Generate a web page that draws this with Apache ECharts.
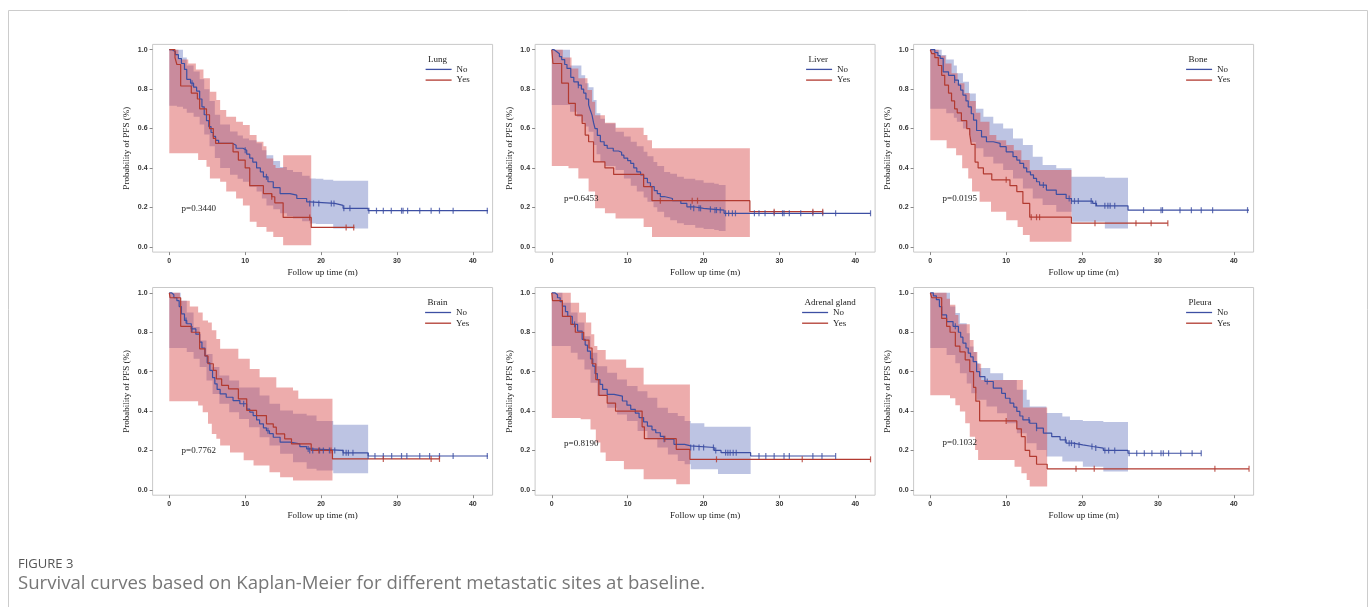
<!DOCTYPE html>
<html>
<head>
<meta charset="utf-8">
<title>Figure 3</title>
<script src="https://cdn.jsdelivr.net/npm/echarts@6/dist/echarts.min.js"></script>
<style>
    html, body { margin: 0; padding: 0; background: #fff; }
    #main { width: 1372px; height: 607px; }
</style>
</head>
<body>
<div id="main"></div>
<script>
/**
 * data
 * curves: [time, survival]   bands: [time, lower, upper]   censors: times
 */
var xTicks = [0, 10, 20, 30, 40];
var yTicks = [0, 0.2, 0.4, 0.6, 0.8, 1.0];
var siteNames = ['Lung', 'Liver', 'Bone', 'Brain', 'Adrenal gland', 'Pleura'];
var groupNames = ['No', 'Yes'];
var pValues = ['p=0.3440', 'p=0.6453', 'p=0.0195', 'p=0.7762', 'p=0.8190', 'p=0.1032'];

// Lung
var lungNo = [[0,1],[0.4,0.99],[0.8,0.975],[1.2,0.955],[1.6,0.93],[2.0,0.90],[2.3,0.85],[2.8,0.83],[3.2,0.81],[3.6,0.79],[4.0,0.75],[4.3,0.71],[4.6,0.67],[4.9,0.64],[5.2,0.61],[5.5,0.58],[5.8,0.56],[6.1,0.54],[6.5,0.525],[8.3,0.515],[8.8,0.50],[9.7,0.49],[10.2,0.47],[10.6,0.45],[11.0,0.43],[11.5,0.40],[12.0,0.38],[12.4,0.355],[13.0,0.33],[13.7,0.30],[14.6,0.27],[15.9,0.262],[16.8,0.245],[18.1,0.228],[18.5,0.22],[21.8,0.21],[22.9,0.195],[26.2,0.183],[42,0.183]];
var lungNoCens = [3.0,10.0,12.8,18.5,19.0,19.7,21.35,21.7,23.0,23.8,26.3,27.3,28.2,29.25,30.6,30.8,31.4,33.0,34.5,35.6,37.4,41.9];
var lungNoCI = [[0,0.716,1.0],[1.0,0.71,1.0],[1.8,0.70,0.96],[2.3,0.68,0.92],[3.2,0.66,0.89],[4.0,0.62,0.85],[4.6,0.57,0.80],[5.3,0.51,0.74],[6.0,0.45,0.67],[6.7,0.40,0.62],[8.0,0.365,0.585],[9.0,0.345,0.565],[9.7,0.33,0.55],[10.5,0.305,0.54],[11.5,0.28,0.525],[12.2,0.245,0.49],[12.8,0.21,0.465],[13.7,0.19,0.435],[14.6,0.17,0.405],[15.5,0.155,0.39],[16.3,0.144,0.38],[17.5,0.13,0.36],[18.5,0.118,0.347],[19.3,0.115,0.345],[20.3,0.115,0.34],[21.6,0.093,0.335],[26.2,0.093,0.335]];
var lungYes = [[0,1],[0.75,0.96],[1.0,0.925],[1.5,0.816],[2.9,0.78],[3.7,0.75],[4.0,0.70],[4.9,0.67],[5.3,0.60],[5.8,0.55],[6.1,0.525],[8.4,0.482],[9.1,0.44],[10.0,0.40],[10.6,0.31],[12.4,0.27],[13.5,0.254],[13.9,0.223],[15.0,0.149],[18.7,0.098],[24.4,0.098]];
var lungYesCens = [13.5,18.5,23.3,24.3];
var lungYesCI = [[0,0.474,1.0],[1.2,0.474,0.95],[2.5,0.474,0.93],[3.5,0.474,0.90],[3.8,0.44,0.90],[4.5,0.44,0.855],[4.9,0.406,0.855],[5.35,0.347,0.787],[6.2,0.347,0.745],[6.7,0.33,0.694],[7.5,0.28,0.66],[8.8,0.245,0.635],[9.7,0.21,0.618],[10.6,0.127,0.567],[11.5,0.10,0.533],[12.4,0.10,0.51],[12.8,0.076,0.448],[13.7,0.05,0.415],[14.0,0.05,0.40],[15.0,0.008,0.465],[18.7,0.008,0.465]];

// Liver
var liverNo = [[0,1],[0.3,0.99],[0.66,0.98],[1.0,0.965],[1.3,0.95],[1.7,0.925],[2.0,0.905],[2.5,0.86],[2.9,0.837],[3.5,0.82],[3.9,0.80],[4.2,0.78],[4.5,0.75],[4.85,0.72],[5.1,0.69],[5.3,0.668],[5.5,0.63],[5.7,0.60],[6.0,0.565],[6.4,0.533],[6.9,0.515],[7.3,0.50],[8.1,0.486],[8.8,0.48],[9.2,0.465],[9.5,0.45],[10.0,0.437],[10.4,0.423],[10.8,0.40],[11.2,0.38],[11.7,0.365],[12.1,0.347],[12.6,0.325],[13.0,0.305],[13.5,0.285],[13.9,0.27],[14.3,0.255],[14.8,0.245],[15.9,0.234],[17.0,0.22],[17.8,0.203],[18.7,0.195],[20.0,0.19],[21.4,0.186],[22.7,0.17],[42,0.17]];
var liverNoCens = [3.5,18.3,18.7,19.4,19.6,20.9,21.5,21.7,22.2,22.9,23.3,23.8,24.2,26.7,27.3,28.1,29.3,30.4,30.6,31.3,32.8,34.4,35.7,37.4,42.0];
var liverNoCI = [[0,0.72,1.0],[2.0,0.72,1.0],[2.4,0.685,0.92],[3.3,0.66,0.92],[3.9,0.635,0.87],[4.4,0.61,0.83],[4.85,0.584,0.81],[5.5,0.516,0.745],[5.9,0.47,0.677],[6.4,0.43,0.65],[7.0,0.41,0.626],[8.4,0.39,0.584],[9.5,0.347,0.56],[10.4,0.31,0.533],[11.2,0.28,0.51],[12.1,0.25,0.482],[12.6,0.228,0.46],[13.4,0.20,0.43],[13.9,0.178,0.41],[14.8,0.15,0.38],[15.6,0.135,0.37],[16.5,0.12,0.355],[17.4,0.11,0.345],[18.9,0.096,0.338],[20.0,0.09,0.325],[21.4,0.085,0.32],[22.0,0.08,0.313],[22.9,0.08,0.313]];
var liverYes = [[0,1],[0.15,0.93],[1.3,0.83],[2.2,0.728],[3.1,0.668],[4.0,0.626],[4.4,0.567],[4.85,0.533],[5.5,0.431],[7.0,0.40],[8.15,0.367],[12.1,0.305],[13.2,0.234],[26.1,0.178],[35.7,0.178]];
var liverYesCens = [14.3,18.5,19.2,29.3,34.4,35.7];
var liverYesCI = [[0,0.41,1.0],[1.45,0.41,0.96],[2.2,0.398,0.96],[2.6,0.398,0.905],[3.5,0.347,0.855],[4.7,0.347,0.795],[4.85,0.28,0.795],[5.3,0.28,0.736],[5.7,0.195,0.668],[7.0,0.17,0.63],[8.4,0.144,0.604],[12.1,0.10,0.567],[12.6,0.10,0.54],[13.2,0.05,0.50],[26.1,0.05,0.50]];

// Bone
var boneNo = [[0,1],[0.6,0.985],[1.0,0.97],[1.3,0.956],[1.7,0.888],[2.4,0.87],[3.2,0.846],[3.7,0.82],[4.0,0.795],[4.3,0.77],[4.7,0.74],[5.0,0.71],[5.4,0.675],[5.7,0.643],[6.1,0.59],[6.75,0.558],[7.4,0.533],[8.3,0.525],[9.2,0.508],[10.0,0.482],[10.9,0.457],[11.4,0.44],[11.8,0.423],[12.3,0.40],[12.7,0.38],[13.2,0.365],[13.6,0.347],[14.0,0.33],[14.4,0.313],[15.3,0.288],[16.6,0.266],[17.9,0.245],[18.6,0.232],[21.4,0.22],[21.9,0.208],[26.05,0.186],[42,0.186]];
var boneNoCens = [3.2,14.9,18.3,18.6,19.0,19.5,21.2,21.8,23.0,23.4,23.7,24.3,28.1,30.4,30.6,32.9,34.4,35.7,37.2,41.8];
var boneNoCI = [[0,0.70,1.0],[1.5,0.70,0.973],[2.1,0.677,0.95],[3.1,0.655,0.92],[3.5,0.635,0.88],[4.3,0.60,0.838],[5.1,0.567,0.778],[5.3,0.53,0.778],[6.0,0.50,0.70],[7.0,0.457,0.66],[8.3,0.423,0.626],[9.6,0.389,0.60],[10.9,0.347,0.55],[12.2,0.296,0.516],[13.5,0.245,0.457],[14.8,0.212,0.415],[16.6,0.178,0.398],[18.6,0.152,0.355],[18.7,0.127,0.355],[23.0,0.093,0.35],[26.05,0.093,0.35]];
var boneYes = [[0,1],[0.2,0.98],[0.6,0.96],[1.05,0.92],[1.5,0.87],[1.9,0.82],[2.4,0.78],[2.8,0.74],[3.2,0.70],[3.55,0.68],[4.1,0.64],[4.8,0.60],[5.2,0.57],[5.4,0.52],[5.9,0.43],[6.3,0.40],[7.0,0.37],[8.1,0.34],[10.5,0.31],[11.4,0.28],[12.2,0.22],[13.1,0.15],[18.6,0.12],[31.3,0.12]];
var boneYesCens = [10.0,13.3,14.0,14.4,21.7,27.1,29.1,31.3];
var boneYesCI = [[0,0.54,1.0],[1.1,0.54,0.97],[2.0,0.54,0.93],[2.15,0.50,0.93],[2.8,0.50,0.88],[3.4,0.465,0.88],[3.6,0.465,0.83],[4.2,0.398,0.83],[4.5,0.398,0.78],[5.0,0.347,0.78],[5.2,0.347,0.74],[5.5,0.28,0.74],[6.0,0.28,0.68],[6.5,0.228,0.68],[6.6,0.228,0.635],[7.8,0.228,0.567],[8.0,0.178,0.567],[8.7,0.178,0.54],[10.0,0.135,0.516],[11.0,0.135,0.49],[11.5,0.10,0.49],[12.0,0.10,0.44],[12.2,0.06,0.44],[13.1,0.025,0.39],[18.6,0.025,0.39]];

// Brain
var brainNo = [[0,1],[0.3,0.99],[0.6,0.975],[1.0,0.96],[1.3,0.93],[1.6,0.893],[2.0,0.86],[2.3,0.843],[2.9,0.817],[3.5,0.79],[4.0,0.75],[4.3,0.72],[4.7,0.68],[5.0,0.645],[5.35,0.606],[5.7,0.57],[6.0,0.538],[6.3,0.51],[6.7,0.487],[7.5,0.47],[8.4,0.453],[9.3,0.437],[10.2,0.41],[10.6,0.395],[11.05,0.377],[11.5,0.355],[11.9,0.335],[12.4,0.315],[12.8,0.30],[13.2,0.285],[13.7,0.267],[14.6,0.242],[15.9,0.233],[17.2,0.22],[18.1,0.208],[18.5,0.20],[22.9,0.188],[26.2,0.172],[42,0.172]];
var brainNoCens = [2.2,3.0,9.8,13.0,18.3,18.5,18.9,19.8,20.3,21.1,21.8,22.9,23.3,23.6,24.2,26.2,27.1,28.2,29.3,30.6,31.3,33.0,34.3,35.6,37.4,41.9];
var brainNoCI = [[0,0.72,1.0],[1.5,0.72,0.96],[2.3,0.70,0.90],[3.2,0.665,0.826],[4.0,0.623,0.758],[4.9,0.555,0.69],[5.7,0.487,0.623],[6.6,0.437,0.58],[7.9,0.394,0.555],[9.2,0.36,0.52],[10.5,0.318,0.52],[11.9,0.267,0.479],[13.2,0.225,0.437],[14.6,0.183,0.403],[16.3,0.14,0.386],[18.1,0.107,0.377],[19.4,0.098,0.35],[21.6,0.085,0.33],[26.2,0.085,0.33]];
var brainYes = [[0,1],[0.1,0.975],[1.5,0.83],[2.9,0.80],[4.0,0.716],[4.7,0.68],[5.1,0.64],[5.8,0.606],[6.2,0.563],[6.9,0.53],[7.8,0.513],[9.1,0.462],[10.2,0.403],[11.5,0.377],[12.8,0.335],[13.7,0.318],[14.1,0.284],[15.2,0.259],[16.1,0.233],[18.7,0.20],[21.5,0.157],[35.6,0.157]];
var brainYesCens = [19.7,21.3,28.2,34.5,35.6];
var brainYesCI = [[0,0.45,1.0],[1.4,0.45,0.96],[2.7,0.45,0.93],[3.8,0.428,0.90],[4.4,0.394,0.86],[5.1,0.335,0.85],[5.6,0.284,0.81],[6.2,0.26,0.766],[6.7,0.225,0.716],[8.0,0.19,0.716],[9.1,0.19,0.665],[9.8,0.15,0.665],[10.6,0.15,0.614],[11.1,0.124,0.614],[11.9,0.124,0.572],[13.2,0.09,0.572],[14.1,0.09,0.52],[14.6,0.064,0.52],[16.3,0.047,0.504],[17.0,0.047,0.462],[21.5,0.047,0.462]];

// Adrenal gland
var adrenalNo = [[0,1],[0.4,0.99],[0.75,0.975],[1.1,0.955],[1.4,0.932],[1.8,0.905],[2.1,0.88],[2.7,0.84],[3.4,0.806],[4.0,0.764],[4.4,0.735],[4.7,0.704],[5.1,0.665],[5.4,0.628],[5.7,0.59],[6.0,0.56],[6.35,0.535],[6.7,0.51],[7.3,0.485],[8.2,0.476],[9.3,0.451],[9.9,0.43],[10.4,0.409],[11.0,0.39],[11.5,0.367],[12.1,0.345],[12.6,0.324],[13.2,0.305],[13.7,0.29],[14.3,0.272],[14.8,0.257],[16.1,0.231],[17.5,0.223],[18.3,0.215],[21.4,0.20],[22.3,0.189],[26.2,0.172],[37.4,0.172]];
var adrenalNoCens = [3.0,14.8,18.3,18.7,19.4,20.0,21.3,21.6,22.9,23.2,23.5,23.9,24.3,27.3,28.2,29.3,30.6,31.3,34.4,35.6,37.4];
var adrenalNoCI = [[0,0.73,1.0],[1.4,0.73,0.95],[2.5,0.696,0.90],[3.4,0.662,0.85],[4.3,0.611,0.78],[5.1,0.544,0.696],[6.0,0.476,0.628],[7.3,0.417,0.595],[8.6,0.383,0.56],[9.9,0.35,0.527],[11.3,0.299,0.50],[12.6,0.257,0.468],[13.9,0.215,0.417],[15.3,0.18,0.39],[16.6,0.147,0.375],[17.5,0.13,0.35],[18.3,0.105,0.338],[20.1,0.105,0.32],[21.9,0.08,0.32],[26.2,0.08,0.32]];
var adrenalYes = [[0,1],[0.1,0.96],[1.4,0.88],[2.5,0.84],[3.1,0.80],[4.2,0.76],[4.9,0.72],[5.3,0.64],[5.8,0.56],[6.2,0.48],[7.3,0.44],[8.4,0.40],[11.9,0.32],[12.2,0.26],[16.4,0.206],[18.2,0.155],[42,0.155]];
var adrenalYesCens = [14.9,21.7,33.0,42.0];
var adrenalYesCI = [[0,0.365,1.0],[2.5,0.365,0.95],[3.6,0.365,0.90],[3.8,0.358,0.90],[4.5,0.358,0.85],[5.1,0.307,0.85],[5.2,0.307,0.79],[5.6,0.307,0.73],[5.8,0.24,0.73],[6.0,0.24,0.71],[6.4,0.19,0.71],[7.1,0.147,0.662],[9.5,0.105,0.662],[9.8,0.105,0.62],[12.1,0.054,0.535],[16.4,0.029,0.535],[18.2,0.029,0.535]];

// Pleura
var pleuraNo = [[0,1],[0.4,0.985],[0.8,0.965],[1.2,0.93],[1.5,0.888],[2.15,0.854],[3.0,0.83],[3.7,0.80],[4.0,0.775],[4.3,0.745],[4.7,0.72],[5.0,0.694],[5.3,0.675],[5.65,0.651],[6.1,0.60],[6.5,0.575],[7.2,0.55],[8.3,0.516],[9.4,0.49],[9.9,0.465],[10.5,0.44],[11.0,0.42],[11.4,0.398],[11.8,0.375],[12.2,0.355],[13.1,0.338],[14.0,0.313],[14.9,0.288],[16.0,0.27],[17.1,0.254],[17.9,0.237],[18.8,0.228],[20.1,0.22],[21.4,0.212],[22.8,0.20],[26.05,0.186],[35.7,0.186]];
var pleuraNoCens = [3.3,7.5,13.0,14.0,17.8,18.3,18.6,19.0,19.6,21.3,21.8,23.0,23.5,24.3,26.2,27.2,28.2,29.2,30.4,30.7,31.4,33.0,34.5,35.7];
var pleuraNoCI = [[0,0.72,1.0],[1.5,0.72,1.0],[2.15,0.685,1.0],[2.6,0.685,0.93],[3.3,0.643,0.897],[3.9,0.592,0.846],[4.8,0.54,0.795],[5.2,0.54,0.728],[5.4,0.49,0.728],[5.7,0.49,0.70],[6.1,0.457,0.643],[6.5,0.457,0.618],[7.4,0.423,0.618],[7.9,0.423,0.592],[8.8,0.389,0.592],[9.6,0.389,0.558],[10.1,0.338,0.558],[11.4,0.288,0.508],[12.7,0.237,0.457],[13.1,0.237,0.423],[14.0,0.203,0.423],[15.3,0.17,0.39],[17.4,0.144,0.372],[18.4,0.144,0.355],[20.1,0.118,0.35],[22.8,0.093,0.345],[26.05,0.093,0.345]];
var pleuraYes = [[0,1],[0.2,0.975],[1.5,0.87],[2.15,0.83],[2.6,0.80],[3.3,0.73],[3.9,0.70],[4.6,0.66],[5.2,0.60],[5.7,0.52],[6.0,0.45],[6.5,0.35],[11.4,0.31],[12.0,0.27],[12.5,0.20],[13.1,0.17],[14.0,0.13],[15.4,0.107],[42,0.107]];
var pleuraYesCens = [10.0,19.2,21.6,37.5,42.0];
var pleuraYesCI = [[0,0.48,1.0],[2.15,0.48,0.97],[2.6,0.465,0.94],[3.3,0.43,0.888],[3.7,0.43,0.84],[3.9,0.398,0.84],[4.6,0.338,0.84],[5.2,0.27,0.76],[5.7,0.27,0.70],[5.9,0.203,0.70],[6.2,0.203,0.64],[6.3,0.152,0.64],[6.7,0.152,0.558],[11.1,0.118,0.558],[12.0,0.085,0.558],[12.2,0.085,0.418],[12.7,0.05,0.418],[13.1,0.017,0.418],[15.4,0.017,0.418]];

/**
 * layout / style
 */
var basedata = {
    gridLefts: [152.6, 535.1, 913.6],
    gridTops: [44.4, 287.5],
    gridW: 340,
    gridH: 207.7,
    legendDx: [273, 271, 272.5, 272.5, 267, 272.5],
    pDy: [164, 154, 154.6, 163.2, 155.8, 155.2],
    blueLine: '#3d4fa3',
    redLine: '#b23a30',
    blueBand: 'rgba(72,92,178,0.36)',
    redBand: 'rgba(214,72,72,0.45)',
    serif: '"Liberation Serif", "DejaVu Serif", serif',
    sans: '"Liberation Sans", Arial, sans-serif',
    myChart: null
};

var panels = [
    { no: lungNo, noCI: lungNoCI, noCens: lungNoCens, yes: lungYes, yesCI: lungYesCI, yesCens: lungYesCens },
    { no: liverNo, noCI: liverNoCI, noCens: liverNoCens, yes: liverYes, yesCI: liverYesCI, yesCens: liverYesCens },
    { no: boneNo, noCI: boneNoCI, noCens: boneNoCens, yes: boneYes, yesCI: boneYesCI, yesCens: boneYesCens },
    { no: brainNo, noCI: brainNoCI, noCens: brainNoCens, yes: brainYes, yesCI: brainYesCI, yesCens: brainYesCens },
    { no: adrenalNo, noCI: adrenalNoCI, noCens: adrenalNoCens, yes: adrenalYes, yesCI: adrenalYesCI, yesCens: adrenalYesCens },
    { no: pleuraNo, noCI: pleuraNoCI, noCens: pleuraNoCens, yes: pleuraYes, yesCI: pleuraYesCI, yesCens: pleuraYesCens }
];

/******************************************************* helpers *******************************************************/

// survival value of a step curve at time t
function stepAt(curve, t) {
    var v = curve[0][1];
    for (var i = 0; i < curve.length; i++) {
        if (curve[i][0] <= t) v = curve[i][1];
    }
    return v;
}

// confidence band drawn as one stepped polygon
function bandSeries(ci, fill, idx) {
    return {
        type: 'custom',
        name: 'band',
        xAxisIndex: idx,
        yAxisIndex: idx,
        silent: true,
        clip: true,
        z: 1,
        data: [[ci[0][0], ci[0][2]]],
        renderItem: function (params, api) {
            var pts = [], i;
            for (i = 0; i < ci.length - 1; i++) {
                pts.push(api.coord([ci[i][0], ci[i][2]]));
                pts.push(api.coord([ci[i + 1][0], ci[i][2]]));
            }
            for (i = ci.length - 2; i >= 0; i--) {
                pts.push(api.coord([ci[i + 1][0], ci[i][1]]));
                pts.push(api.coord([ci[i][0], ci[i][1]]));
            }
            return { type: 'polygon', shape: { points: pts }, style: { fill: fill } };
        }
    };
}

function lineSeries(name, curve, color, idx) {
    return {
        type: 'line', name: name, xAxisIndex: idx, yAxisIndex: idx,
        step: 'end', symbol: 'none', data: curve, z: 3,
        lineStyle: { color: color, width: 1.2 }, itemStyle: { color: color }
    };
}

function censorSeries(curve, cens, color, idx) {
    return {
        type: 'scatter', name: 'censor', xAxisIndex: idx, yAxisIndex: idx, z: 4,
        symbol: 'rect', symbolSize: [1.2, 6],
        itemStyle: { color: color },
        data: cens.map(function (t) { return [t, stepAt(curve, t)]; })
    };
}

/******************************************************* option ********************************************************/

function build_option() {
    var b = basedata;
    var option = {
        animation: false,
        backgroundColor: '#fff',
        grid: [], xAxis: [], yAxis: [], series: [], legend: [], title: [],
        graphic: [
            { type: 'rect', shape: { x: 8.5, y: 10.5, width: 1359, height: 700 }, style: { fill: 'none', stroke: '#cccccc', lineWidth: 1 }, silent: true },
            { type: 'text', left: 18, top: 558, style: { text: 'FIGURE 3', fill: '#555', font: '13px "Open Sans", sans-serif' } },
            { type: 'text', left: 18, top: 574, style: { text: 'Survival curves based on Kaplan-Meier for different metastatic sites at baseline.', fill: '#777', font: '18.6px "Open Sans", sans-serif' } }
        ]
    };

    panels.forEach(function (p, i) {
        var left = b.gridLefts[i % 3];
        var top = b.gridTops[Math.floor(i / 3)];

        option.grid.push({ left: left, top: top, width: b.gridW, height: b.gridH, show: true, borderColor: '#c9c9c9', borderWidth: 1, backgroundColor: '#fff' });

        option.xAxis.push({
            gridIndex: i, type: 'value', min: -2.2, max: 42.6,
            axisLine: { show: false, onZero: false }, splitLine: { show: false },
            axisTick: { show: true, customValues: xTicks, length: 3, lineStyle: { color: '#888' } },
            axisLabel: { customValues: xTicks, margin: 5, fontSize: 7, fontWeight: 'bold', fontFamily: b.sans, color: '#333' },
            name: 'Follow up time (m)', nameLocation: 'middle', nameGap: 16,
            nameTextStyle: { fontFamily: b.serif, fontSize: 9, color: '#222' }
        });
        option.yAxis.push({
            gridIndex: i, type: 'value', min: -0.027, max: 1.027,
            axisLine: { show: false, onZero: false }, splitLine: { show: false },
            axisTick: { show: true, customValues: yTicks, length: 3, lineStyle: { color: '#888' } },
            axisLabel: { customValues: yTicks, margin: 5, fontSize: 7, fontWeight: 'bold', fontFamily: b.sans, color: '#333',
                hideOverlap: false,
                formatter: function (v) { return v.toFixed(1); } },
            name: 'Probability of PFS (%)', nameLocation: 'middle', nameGap: 21,
            nameTextStyle: { fontFamily: b.serif, fontSize: 9, color: '#222' }
        });

        option.series.push(bandSeries(p.noCI, b.blueBand, i));
        option.series.push(bandSeries(p.yesCI, b.redBand, i));
        option.series.push(lineSeries(groupNames[0], p.no, b.blueLine, i));
        option.series.push(lineSeries(groupNames[1], p.yes, b.redLine, i));
        option.series.push(censorSeries(p.no, p.noCens, b.blueLine, i));
        option.series.push(censorSeries(p.yes, p.yesCens, b.redLine, i));

        option.legend.push({
            data: groupNames, orient: 'vertical', left: left + b.legendDx[i], top: top + 20,
            padding: 0, icon: 'rect', itemWidth: 26, itemHeight: 1.3, itemGap: 0.7, selectedMode: false,
            textStyle: { fontFamily: b.serif, fontSize: 9, color: '#222', lineHeight: 10, height: 10 }
        });
        option.title.push({
            text: siteNames[i], left: left + b.legendDx[i] + 2.5, top: top + 10.6, padding: 0,
            textStyle: { fontFamily: b.serif, fontSize: 9, fontWeight: 'normal', color: '#222', lineHeight: 10 }
        });
        option.title.push({
            text: pValues[i], left: left + 29, top: top + b.pDy[i] - 5, padding: 0,
            textStyle: { fontFamily: b.serif, fontSize: 9, fontWeight: 'normal', color: '#222', lineHeight: 10 }
        });
    });
    return option;
}

/**
 * init
 */
var init_application = function () {
    basedata.myChart = echarts.init(document.getElementById('main'));
    basedata.myChart.setOption(build_option());
    window.onresize = function () {
        basedata.myChart.resize();
    };
};

init_application();
</script>
</body>
</html>
